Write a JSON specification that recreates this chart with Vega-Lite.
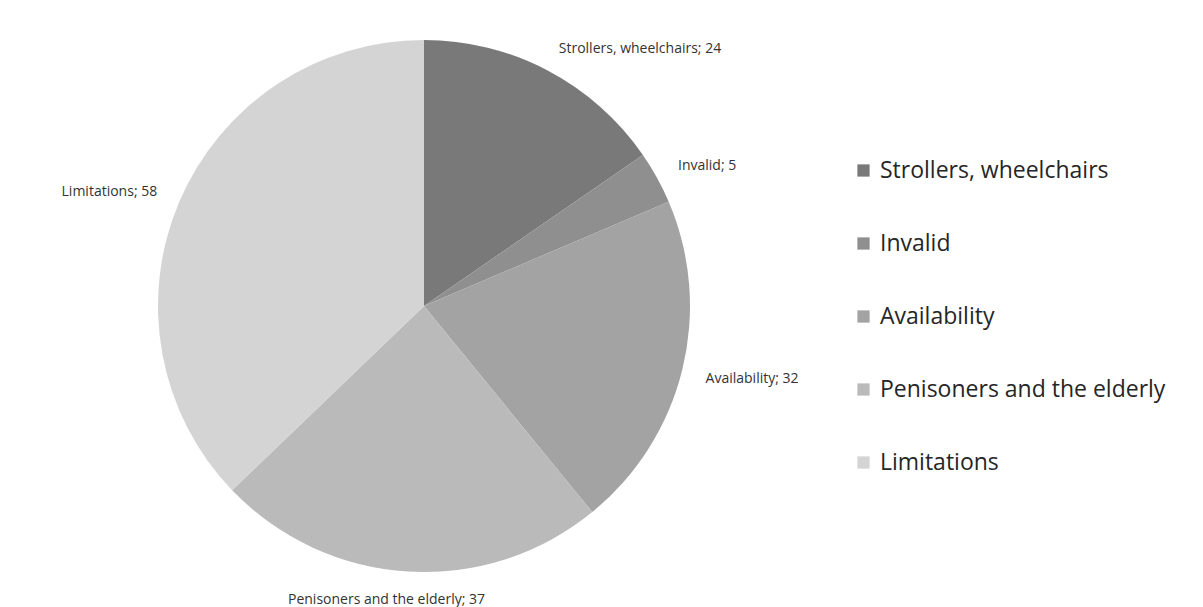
{
  "$schema": "https://vega.github.io/schema/vega-lite/v6.json",
  "autosize": "none",
  "width": 848,
  "height": 602,
  "padding": {"left": 0, "top": 5, "right": 355, "bottom": 0},
  "background": "white",
  "config": {"view": {"stroke": null}, "font": "Open Sans"},
  "data": {
    "values": [
      {"category": "Strollers, wheelchairs", "value": 24},
      {"category": "Invalid", "value": 5},
      {"category": "Availability", "value": 32},
      {"category": "Penisoners and the elderly", "value": 37},
      {"category": "Limitations", "value": 58}
    ]
  },
  "transform": [
    {"calculate": "indexof(['Strollers, wheelchairs', 'Invalid', 'Availability', 'Penisoners and the elderly', 'Limitations'], datum.category)", "as": "rank"},
    {"calculate": "datum.category + '; ' + datum.value", "as": "label"}
  ],
  "encoding": {
    "theta": {"field": "value", "type": "quantitative", "stack": true},
    "order": {"field": "rank", "type": "quantitative", "sort": "ascending"},
    "color": {
      "field": "category",
      "type": "nominal",
      "sort": ["Strollers, wheelchairs", "Invalid", "Availability", "Penisoners and the elderly", "Limitations"],
      "scale": {
        "domain": ["Strollers, wheelchairs", "Invalid", "Availability", "Penisoners and the elderly", "Limitations"],
        "range": ["#797979", "#8f8f8f", "#a3a3a3", "#bababa", "#d4d4d4"]
      },
      "legend": {
        "orient": "none",
        "legendX": 852,
        "legendY": 154,
        "title": null,
        "symbolType": "square",
        "symbolSize": 150,
        "symbolStrokeWidth": 0,
        "labelFontSize": 23,
        "labelColor": "#262626",
        "labelFont": "Open Sans",
        "labelLimit": 400,
        "labelOffset": 5,
        "rowPadding": 49
      }
    }
  },
  "layer": [
    {
      "mark": {"type": "arc", "outerRadius": 266}
    },
    {
      "mark": {
        "type": "text",
        "radius": 290,
        "fontSize": 14,
        "baseline": "middle",
        "align": {"expr": "datum.category == 'Limitations' ? 'right' : (datum.category == 'Penisoners and the elderly' ? 'center' : 'left')"},
        "dx": {"expr": "datum.category == 'Penisoners and the elderly' ? -20 : 0"},
        "dy": {"expr": "datum.category == 'Penisoners and the elderly' ? 5 : (datum.category == 'Availability' ? 4 : 0)"}
      },
      "encoding": {
        "text": {"field": "label"},
        "color": {"value": "#333333"},
        "detail": {"field": "category", "type": "nominal"}
      }
    }
  ]
}
